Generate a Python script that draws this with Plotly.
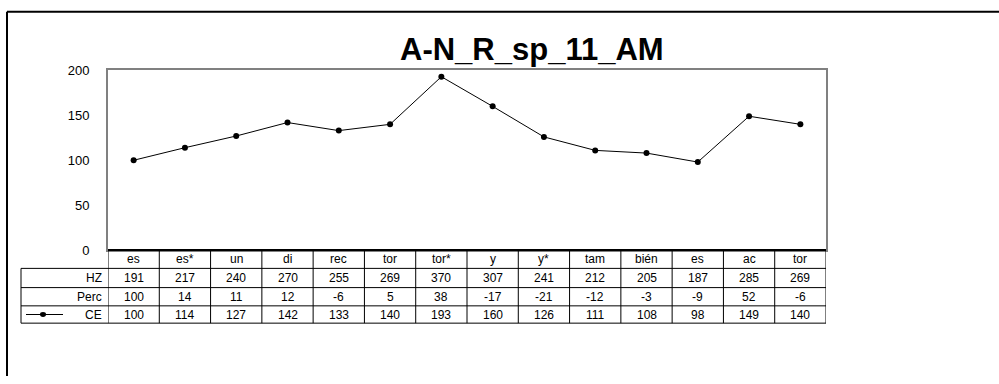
import plotly.graph_objects as go

title = "A-N_R_sp_11_AM"
categories = ["es", "es*", "un", "di", "rec", "tor", "tor*", "y", "y*", "tam", "bién", "es", "ac", "tor"]
hz = [191, 217, 240, 270, 255, 269, 370, 307, 241, 212, 205, 187, 285, 269]
perc = [100, 14, 11, 12, -6, 5, 38, -17, -21, -12, -3, -9, 52, -6]
ce = [100, 114, 127, 142, 133, 140, 193, 160, 126, 111, 108, 98, 149, 140]
y_ticks = [0, 50, 100, 150, 200]

W, H = 999, 384
FONT = "Liberation Sans, Arial, sans-serif"

def py(pix):
    return 1 - pix / H

def px(pix):
    return pix / W

x_idx = list(range(len(categories)))

fig = go.Figure()
fig.add_trace(go.Scatter(
    x=x_idx, y=ce, mode="lines+markers",
    line=dict(color="black", width=1),
    marker=dict(color="black", size=6),
    showlegend=False, hoverinfo="skip", cliponaxis=False,
))

plot_left, plot_right, plot_top, plot_bottom = 108, 826, 66, 253
row_edges = [253, 272, 292, 311, 329]

shapes = []
annotations = []

# Outer border (top and left only, image is cropped)
shapes.append(dict(type="line", xref="paper", yref="paper", x0=px(7), x1=1, y0=py(5), y1=py(5),
                   line=dict(color="black", width=2)))
shapes.append(dict(type="line", xref="paper", yref="paper", x0=px(7), x1=px(7), y0=py(5), y1=0,
                   line=dict(color="black", width=2)))

# Thick zero / table top line
shapes.append(dict(type="line", xref="paper", yref="paper", x0=px(plot_left), x1=px(plot_right),
                   y0=py(253), y1=py(253), line=dict(color="black", width=2)))
# Table horizontal lines
for r in row_edges[1:]:
    shapes.append(dict(type="line", xref="paper", yref="paper", x0=px(21), x1=px(plot_right),
                       y0=py(r), y1=py(r), line=dict(color="black", width=1)))
# Table vertical lines (column boundaries on the category axis)
for i in range(len(categories) + 1):
    shapes.append(dict(type="line", xref="x", yref="paper", x0=i - 0.5, x1=i - 0.5,
                       y0=py(253), y1=py(329), line=dict(color="black", width=1)))
shapes.append(dict(type="line", xref="paper", yref="paper", x0=px(21), x1=px(21),
                   y0=py(272), y1=py(329), line=dict(color="black", width=1)))

row_centers = [(row_edges[k] + row_edges[k + 1]) / 2 for k in range(4)]
rows = [categories, hz, perc, ce]
for k, vals in enumerate(rows):
    for i, v in enumerate(vals):
        annotations.append(dict(x=i, y=py(row_centers[k]), xref="x", yref="paper",
                                text=str(v), showarrow=False, xanchor="center", yanchor="middle",
                                font=dict(family=FONT, size=12, color="black")))

for k, lab in zip([1, 2, 3], ["HZ", "Perc", "CE"]):
    annotations.append(dict(x=px(104), y=py(row_centers[k]), xref="paper", yref="paper",
                            text=lab, showarrow=False, xanchor="right", yanchor="middle",
                            font=dict(family=FONT, size=12, color="black")))

# Legend glyph for CE
shapes.append(dict(type="line", xref="paper", yref="paper", x0=px(26), x1=px(63),
                   y0=py(row_centers[3]), y1=py(row_centers[3]), line=dict(color="black", width=1)))
shapes.append(dict(type="circle", xref="paper", yref="paper", x0=px(40), x1=px(46),
                   y0=py(row_centers[3] - 2.5), y1=py(row_centers[3] + 2.5),
                   fillcolor="black", line=dict(color="black", width=0)))

annotations.append(dict(x=px(532), y=py(44), xref="paper", yref="paper", text="<b>" + title + "</b>",
                        showarrow=False, xanchor="center", yanchor="middle",
                        font=dict(family=FONT, size=31, color="black")))

fig.update_layout(
    width=W, height=H, margin=dict(l=0, r=0, t=0, b=0),
    paper_bgcolor="white", plot_bgcolor="white",
    shapes=shapes, annotations=annotations,
    xaxis=dict(domain=[px(plot_left), px(plot_right)], range=[-0.5, len(categories) - 0.5],
               showticklabels=False, ticks="", showgrid=False, zeroline=False,
               showline=True, linecolor="#808080", linewidth=2, mirror=True, fixedrange=True),
    yaxis=dict(domain=[py(plot_bottom), py(plot_top)], range=[0, 200], tickvals=y_ticks,
               ticks="", ticklabelstandoff=14, showgrid=False, zeroline=False,
               showline=True, linecolor="#808080", linewidth=2, mirror=True,
               tickfont=dict(family=FONT, size=13, color="black"), fixedrange=True),
)

fig.write_html("out.html", config={"displayModeBar": False},
               post_script="document.body.style.margin='0';document.body.style.overflow='hidden';")
